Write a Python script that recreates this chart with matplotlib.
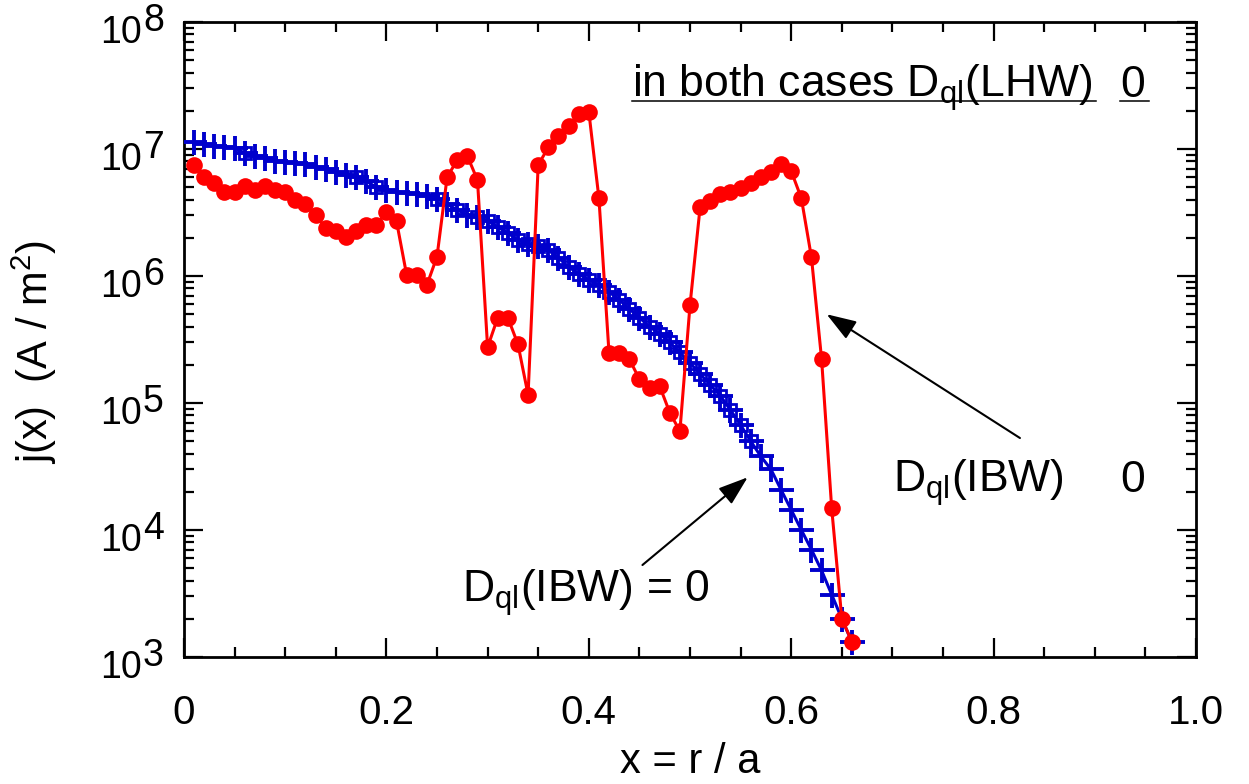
import numpy as np
import matplotlib
matplotlib.use("Agg")
import matplotlib.pyplot as plt
from matplotlib.ticker import FixedLocator, LogLocator, NullFormatter, MultipleLocator

plt.rcParams["font.family"] = ["Liberation Sans", "DejaVu Sans"]
plt.rcParams["mathtext.fontset"] = "custom"
plt.rcParams["mathtext.rm"] = "Liberation Sans"
plt.rcParams["mathtext.it"] = "Liberation Sans:italic"

# radial grid x = r / a (shared by both runs)
x = np.arange(1, 67) * 0.01

# current density with D_ql(IBW) != 0
j_ibw = [7.5e6, 6.0e6, 5.4e6, 4.6e6, 4.6e6, 5.1e6, 4.8e6, 5.1e6, 4.8e6, 4.6e6,
         4.0e6, 3.7e6, 3.0e6, 2.4e6, 2.26e6, 2.04e6, 2.26e6, 2.5e6, 2.5e6, 3.2e6,
         2.7e6, 1.02e6, 1.02e6, 8.5e5, 1.42e6, 6.0e6, 8.2e6, 8.8e6, 5.7e6, 2.75e5,
         4.7e5, 4.7e5, 2.9e5, 1.16e5, 7.5e6, 1.03e7, 1.27e7, 1.52e7, 1.89e7, 1.97e7,
         4.1e6, 2.46e5, 2.46e5, 2.22e5, 1.54e5, 1.31e5, 1.36e5, 8.4e4, 6.0e4, 5.9e5,
         3.5e6, 3.9e6, 4.4e6, 4.6e6, 4.9e6, 5.4e6, 6.0e6, 6.6e6, 7.6e6, 6.7e6,
         4.1e6, 1.40e6, 2.22e5, 1.48e4, 2.0e3, 1.32e3]

# current density with D_ql(IBW) = 0
j_noibw = [1.14e7, 1.09e7, 1.06e7, 1.04e7, 1.02e7, 9.3e6, 8.8e6, 8.5e6, 8.05e6, 7.9e6,
           7.76e6, 7.6e6, 7.2e6, 6.97e6, 6.6e6, 6.24e6, 6.0e6, 5.6e6, 5.0e6, 4.75e6,
           4.6e6, 4.5e6, 4.43e6, 4.27e6, 4.04e6, 3.69e6, 3.31e6, 3.02e6, 2.92e6, 2.71e6,
           2.43e6, 2.18e6, 1.92e6, 1.79e6, 1.72e6, 1.60e6, 1.39e6, 1.18e6, 1.04e6, 9.3e5,
           8.5e5, 7.5e5, 6.5e5, 5.5e5, 4.7e5, 4.0e5, 3.5e5, 3.0e5, 2.5e5, 2.07e5,
           1.69e5, 1.39e5, 1.14e5, 8.8e4, 6.7e4, 5.0e4, 3.8e4, 3.0e4, 2.07e4, 1.44e4,
           1.0e4, 7.0e3, 4.8e3, 3.1e3, 2.0e3, 1.31e3]

# points of the second (square) data set on the D_ql(IBW) = 0 curve
sq_idx = [5, 16, 18, 24, 26] + list(range(28, 56))

x_ticks = [0, 0.2, 0.4, 0.6, 0.8, 1.0]
x_ticklabels = ["0", "0.2", "0.4", "0.6", "0.8", "1.0"]
decades = [3, 4, 5, 6, 7, 8]

red = "#ff0000"
blue = "#0000cc"

fig = plt.figure(figsize=(12.49, 7.84), dpi=100)
ax = fig.add_axes([0.1473, 0.1620, 0.8103, 0.8099])

ax.plot(x, j_noibw, "-", color=blue, lw=2.2, marker="+", ms=18, mew=2.8, zorder=3)
xs = np.asarray(x)[sq_idx]
ys = np.asarray(j_noibw)[sq_idx]
ax.plot(xs, ys, ls="none", marker="s", ms=8.5, mew=2.0, mfc="none", mec=blue, zorder=3)
ax.plot(x, j_ibw, "-", color=red, lw=2.2, marker="o", ms=12, mew=0, zorder=4)

ax.set_yscale("log")
ax.set_xlim(0, 1.0)
ax.set_ylim(1e3, 1e8)

ax.xaxis.set_major_locator(FixedLocator(x_ticks))
ax.set_xticklabels(x_ticklabels)
ax.xaxis.set_minor_locator(MultipleLocator(0.05))
ax.yaxis.set_major_locator(LogLocator(base=10, numticks=10))
ax.yaxis.set_minor_locator(LogLocator(base=10, subs=np.arange(2, 10), numticks=10))
ax.yaxis.set_major_formatter(NullFormatter())
ax.yaxis.set_minor_formatter(NullFormatter())

ax.tick_params(which="both", direction="in", top=True, right=True, width=1.6)
ax.tick_params(which="major", length=14)
ax.tick_params(which="minor", length=7.5)
ax.tick_params(axis="x", which="major", labelsize=29, pad=27)
for s in ax.spines.values():
    s.set_linewidth(2.0)

# y tick labels with full-size exponents
ytr = ax.get_yaxis_transform()
for e in decades:
    ax.annotate("10", xy=(0, 10.0 ** e), xycoords=ytr, xytext=(-30, -8),
                textcoords="offset points", ha="right", va="center", fontsize=27,
                annotation_clip=False)
    ax.annotate(str(e), xy=(0, 10.0 ** e), xycoords=ytr, xytext=(-14.5, 1),
                textcoords="offset points", ha="right", va="center", fontsize=27,
                annotation_clip=False)

ax.set_xlabel("x = r / a", fontsize=30, va="baseline")
ax.xaxis.set_label_coords(0.5, -0.183)
ax.set_ylabel("j(x)  (A / m$^2$)", fontsize=30)
ax.yaxis.set_label_coords(-0.123, 0.48)

t_top = ax.text(0.4427, 0.882, r"in both cases D$_{\rm ql}$(LHW)", transform=ax.transAxes,
                fontsize=32, ha="left", va="baseline")
t_zero = ax.text(0.925, 0.882, "0", transform=ax.transAxes,
                 fontsize=32, ha="left", va="baseline")
ax.text(0.7006, 0.26, r"D$_{\rm ql}$(IBW)", transform=ax.transAxes,
        fontsize=32, ha="left", va="baseline")
ax.text(0.925, 0.26, "0", transform=ax.transAxes,
        fontsize=32, ha="left", va="baseline")
ax.text(0.2747, 0.0866, r"D$_{\rm ql}$(IBW) = 0", transform=ax.transAxes,
        fontsize=32, ha="left", va="baseline")

arrow = dict(arrowstyle="-|>,head_length=1.3,head_width=0.45", color="black",
             lw=1.5, mutation_scale=14, shrinkA=0, shrinkB=0)
ax.annotate("", xy=(0.635, 5.0e5), xytext=(0.826, 5.3e4), arrowprops=arrow)
ax.annotate("", xy=(0.557, 2.6e4), xytext=(0.453, 5.3e3), arrowprops=arrow)

# underline the top note
fig.canvas.draw()
inv = ax.transAxes.inverted()
for t in (t_top, t_zero):
    bb = t.get_window_extent()
    (x0, _), (x1, _) = inv.transform([[bb.x0, bb.y0], [bb.x1, bb.y1]])
    ax.plot([x0, x1 + 0.004], [0.8756, 0.8756], color="black", lw=1.1,
            transform=ax.transAxes, clip_on=False)

fig.savefig("out.png", dpi=100)
